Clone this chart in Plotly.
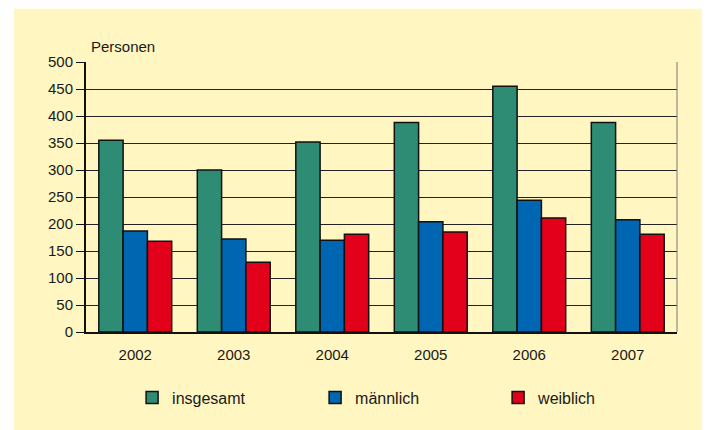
"""Personen 2002-2007, insgesamt / männlich / weiblich."""

import plotly.graph_objects as go

years = ["2002", "2003", "2004", "2005", "2006", "2007"]
insgesamt = [355, 300, 352, 388, 455, 388]
maennlich = [187, 172, 170, 204, 244, 208]
weiblich = [168, 129, 181, 185, 211, 181]

series = [
    ("insgesamt", insgesamt, "#2e8c74"),
    ("männlich", maennlich, "#0066b2"),
    ("weiblich", weiblich, "#e2001a"),
]

FONT = "Liberation Sans, Arial, sans-serif"

fig = go.Figure()

for name, values, color in series:
    fig.add_trace(go.Bar(
        x=years,
        y=values,
        name=name,
        marker={"color": color, "line": {"color": "#111111", "width": 1.5}},
    ))

# the page body adds an 8px offset, so the figure is a bit smaller
fig.update_layout(
    width=702,
    height=422,
    margin={"l": 78, "r": 33, "t": 54, "b": 98},
    paper_bgcolor="white",
    plot_bgcolor="#fffdec",
    font={"family": FONT, "size": 15, "color": "#1a1a1a"},
    barmode="group",
    bargap=0.26,
    bargroupgap=0,
    showlegend=True,
    legend={
        "orientation": "h",
        "x": 0.078,
        "xanchor": "left",
        "y": -0.18,
        "yanchor": "top",
        "bgcolor": "rgba(0,0,0,0)",
        "entrywidth": 138,
        "entrywidthmode": "pixels",
        "font": {"size": 16},
    },
)

# yellow panel behind the chart
fig.add_shape(
    type="rect", xref="paper", yref="paper",
    x0=-0.122, x1=1.06, y0=-0.37, y1=1.197,
    fillcolor="#fff6c1", line={"width": 0}, layer="below",
)

fig.update_xaxes(
    showline=True, linecolor="#111111", linewidth=2,
    ticks="", tickfont={"size": 15},
    ticklabelstandoff=8,
    mirror=False,
)

fig.update_yaxes(
    range=[0, 500],
    dtick=50,
    showgrid=True, gridcolor="#222222", gridwidth=1,
    showline=True, linecolor="#111111", linewidth=2,
    ticks="outside", ticklen=8, tickcolor="#111111",
    tickfont={"size": 15},
    zeroline=False,
)

# right border of the plot area
fig.add_shape(
    type="line", xref="paper", yref="paper",
    x0=1, x1=1, y0=0, y1=1,
    line={"color": "#777777", "width": 1},
)

fig.add_annotation(
    text="Personen", xref="paper", yref="paper",
    x=0.005, y=1.02, xanchor="left", yanchor="bottom",
    showarrow=False, font={"size": 15},
)

fig.write_html("out.html")
